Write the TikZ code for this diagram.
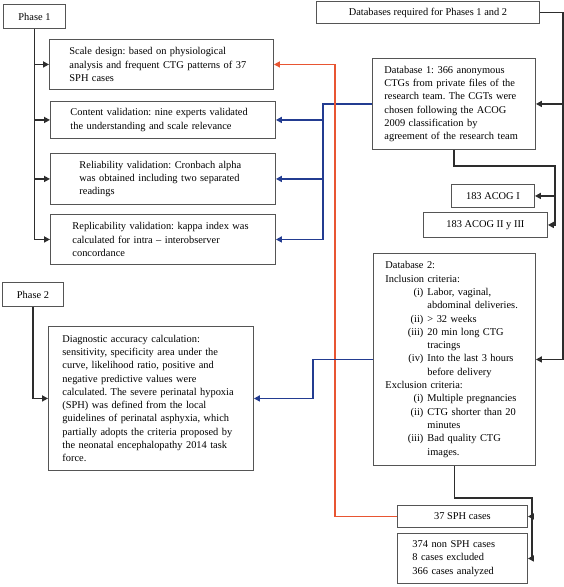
\documentclass[tikz,border=0pt]{standalone}
\usepackage{fontspec}
\setmainfont{Liberation Serif}
\usetikzlibrary{arrows.meta}
\definecolor{lnblue}{RGB}{35,60,145}
\definecolor{lnred}{RGB}{232,85,50}
\definecolor{lngray}{RGB}{45,45,45}
\definecolor{bxgray}{RGB}{85,85,85}
\newcommand{\itm}[2]{\makebox[38pt][r]{#1}\hspace{4pt}#2}
\newcommand{\cnt}[1]{\hspace*{42pt}#1}
\tikzset{
  box/.style={draw=bxgray, line width=0.9pt, fill=white, anchor=north west,
    font=\fontsize{10.4}{13.3}\selectfont\frenchspacing, inner ysep=1pt},
  tbox/.style={box, align=left},
  conn/.style={line width=1.6pt, draw=lngray, -{Triangle[length=6pt,width=6pt]}},
  bconn/.style={conn, draw=lnblue},
  rconn/.style={conn, line width=1.2pt, draw=lnred},
}
\begin{document}
\begin{tikzpicture}[x=1pt,y=-1pt]
\useasboundingbox[fill=white] (0,0) rectangle (564,587);
% Phase 1
\node[box, minimum width=62pt, minimum height=24pt] (phase1) at (3,4) {Phase 1};
\node[tbox, text width=184pt, inner xsep=20pt, minimum height=50pt] (scale) at (49,39)
 {Scale design: based on physiological\\analysis and frequent CTG patterns of 37\\SPH cases};
\node[tbox, text width=185pt, inner xsep=20pt, minimum height=37pt] (content) at (50,101)
 {Content validation: nine experts validated\\the understanding and scale relevance};
\node[tbox, text width=167pt, inner xsep=29pt, minimum height=51pt] (reliab) at (50,153)
 {Reliability validation: Cronbach alpha\\was obtained including two separated\\readings};
\node[tbox, text width=181pt, inner xsep=22pt, minimum height=50pt] (replic) at (50,214)
 {Replicability validation: kappa index was\\calculated for intra – interobserver\\concordance};
% Databases
\node[box, minimum width=223pt, minimum height=22pt] (dbreq) at (316,1) {Databases required for Phases 1 and 2};
\node[tbox, text width=139pt, inner xsep=12pt, minimum height=91pt] (db1) at (372,58)
 {Database 1: 366 anonymous\\CTGs from private files of the\\research team. The CGTs were\\chosen following the ACOG\\2009 classification by\\agreement of the research team};
\node[box, minimum width=83pt, minimum height=23pt] (acog1) at (451,184) {183 ACOG I};
\node[box, minimum width=124pt, minimum height=25pt] (acog2) at (423,212) {183 ACOG II y III};
% Phase 2
\node[box, minimum width=61pt, minimum height=24pt] (phase2) at (2,282) {Phase 2};
\node[tbox, text width=177pt, inner xsep=14pt, minimum height=144pt] (diag) at (48,326)
 {Diagnostic accuracy calculation:\\sensitivity, specificity area under the\\curve, likelihood ratio, positive and\\negative predictive values were\\calculated. The severe perinatal hypoxia\\(SPH) was defined from the local\\guidelines of perinatal asphyxia, which\\partially adopts the criteria proposed by\\the neonatal encephalopathy 2014 task\\force.};
\node[tbox, text width=138pt, inner xsep=12pt, minimum height=212pt] (db2) at (373,253)
 {Database 2:\\Inclusion criteria:\\
  \itm{(i)}{Labor, vaginal,}\\\cnt{abdominal deliveries.}\\
  \itm{(ii)}{> 32 weeks}\\
  \itm{(iii)}{20 min long CTG}\\\cnt{tracings}\\
  \itm{(iv)}{Into the last 3 hours}\\\cnt{before delivery}\\
  Exclusion criteria:\\
  \itm{(i)}{Multiple pregnancies}\\
  \itm{(ii)}{CTG shorter than 20}\\\cnt{minutes}\\
  \itm{(iii)}{Bad quality CTG}\\\cnt{images.}};
\node[box, minimum width=130pt, minimum height=22pt] (sph) at (397,505) {37 SPH cases};
\node[tbox, text width=100pt, inner xsep=15pt, minimum height=50pt] (nonsph) at (397,533)
 {374 non SPH cases\\8 cases excluded\\366 cases analyzed};
% junction coordinates
\coordinate (bj) at (323,0);
\coordinate (rj) at (335,0);
\coordinate (rr) at (563,0);
\coordinate (a1) at (555,166);
\coordinate (a2) at (532,498);
\coordinate (bj2) at (313,0);
% Phase 1 trunk
\draw[conn] (phase1.south) |- (scale.west);
\draw[conn] (phase1.south) |- (content.west);
\draw[conn] (phase1.south) |- (reliab.west);
\draw[conn] (phase1.south) |- (replic.west);
% blue from db1
\draw[bconn] (db1.west) -| (bj |- replic.east) -- (replic.east);
\draw[bconn] (bj |- db1.west) |- (content.east);
\draw[bconn] (bj |- db1.west) |- (reliab.east);
% red from sph
\draw[rconn] (sph.west) -| (rj |- scale.east) -- (scale.east);
% databases trunk
\draw[conn] (dbreq.east) -| (rr |- db2.east) -- (db2.east);
\draw[conn] (rr |- dbreq.east) |- (db1.east);
% db1 split
\draw[conn] (db1.south) |- (a1) |- (acog2.east);
\draw[conn] (a1) |- (acog1.east);
% db2 split
\draw[conn] (db2.south) |- (a2) |- (nonsph.east);
\draw[conn] (a2) |- (sph.east);
% Phase 2
\draw[conn] (phase2.south) |- (diag.west);
\draw[bconn] (db2.west) -| (bj2 |- diag.east) -- (diag.east);
\end{tikzpicture}
\end{document}
